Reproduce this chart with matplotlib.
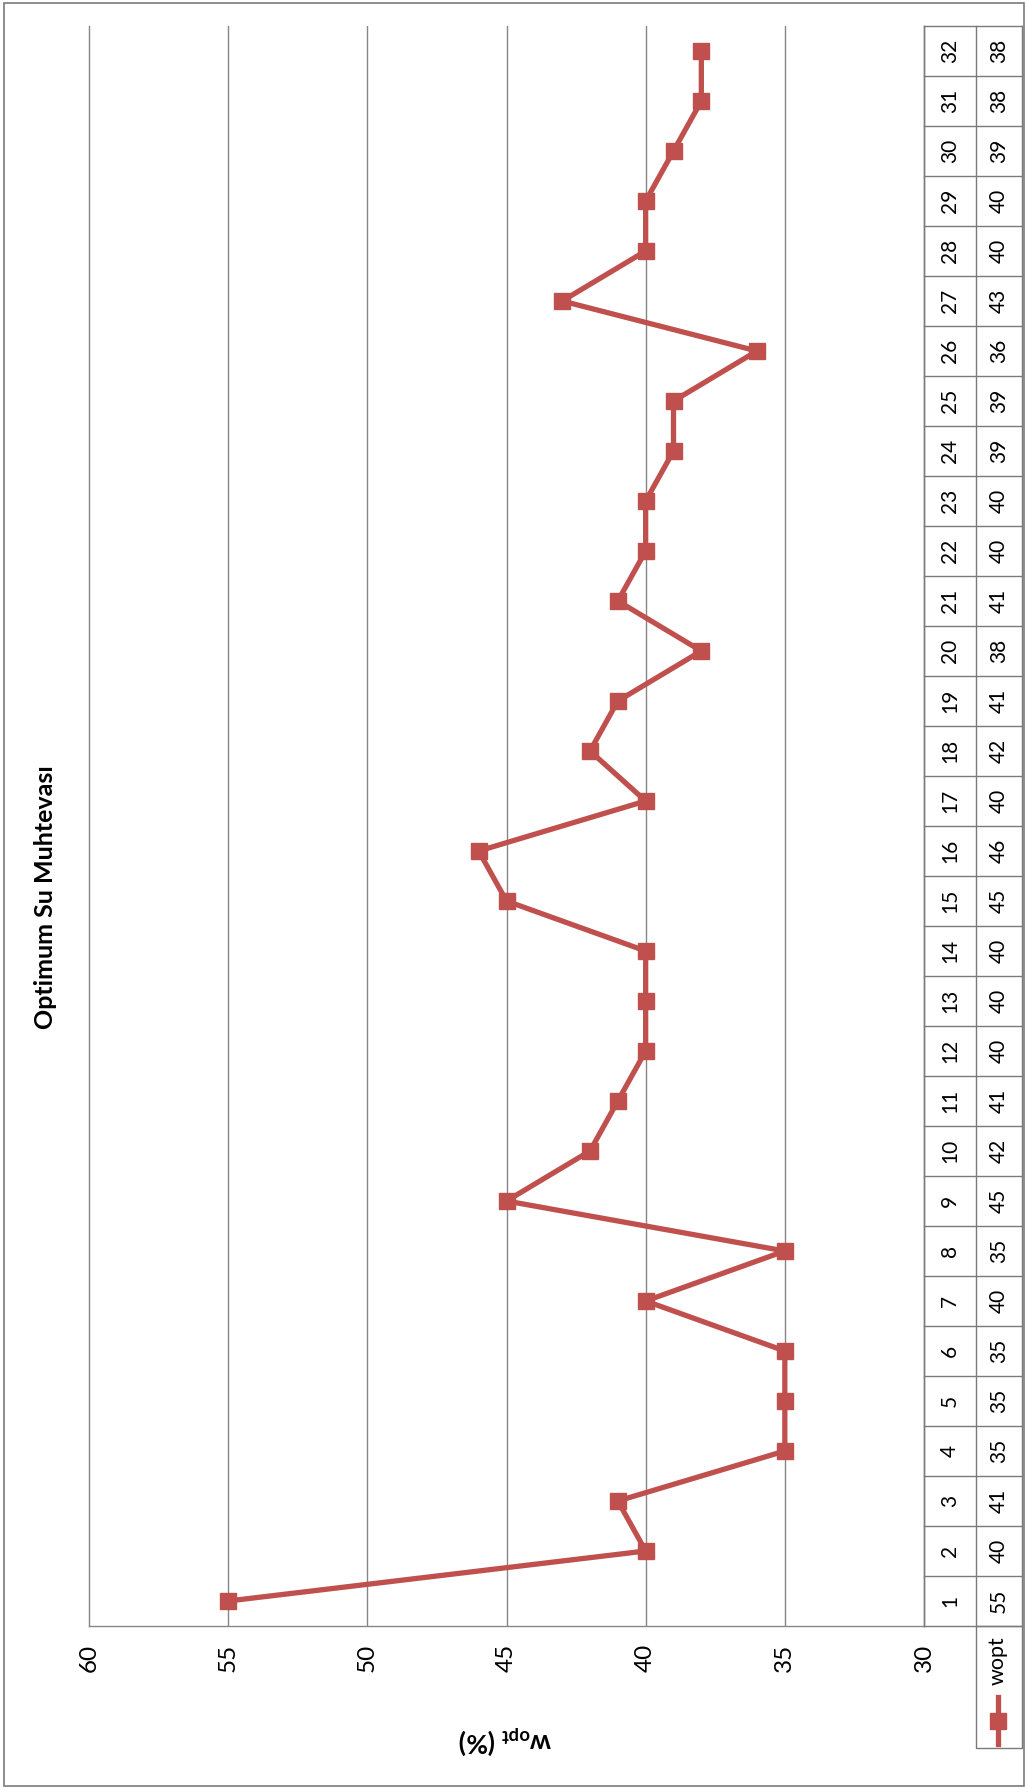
import matplotlib
matplotlib.use("Agg")
import matplotlib.pyplot as plt
from matplotlib.lines import Line2D
from matplotlib.patches import Rectangle

plt.rcParams["font.family"] = ["Lato", "DejaVu Sans"]
plt.rcParams["mathtext.fontset"] = "custom"
plt.rcParams["mathtext.rm"] = "Lato"
plt.rcParams["mathtext.bf"] = "Lato:bold"

# data (sample no -> optimum water content %)
samples = list(range(1, 33))
wopt = [55, 40, 41, 35, 35, 35, 40, 35, 45, 42, 41, 40, 40, 40, 45, 46,
        40, 42, 41, 38, 41, 40, 40, 39, 39, 36, 43, 40, 40, 39, 38, 38]
value_ticks = [60, 55, 50, 45, 40, 35, 30]

title = "Optimum Su Muhtevası"
series_name = "wopt"

RED = "#C0504D"
GRID = "#868686"
BORDER = "#7a7a7a"

W, H = 1028, 1792
fig = plt.figure(figsize=(W / 100, H / 100), dpi=100)
fig.patch.set_facecolor("white")


def fx(px):
    return px / W


def fy(py):
    return 1 - py / H


# chart is drawn turned 90 deg: value axis runs along the bottom, samples go up
plot_l, plot_r, plot_t, plot_b = 89, 924, 26, 1626
ax = fig.add_axes([fx(plot_l), fy(plot_b), fx(plot_r - plot_l), (plot_b - plot_t) / H])
ax.plot(wopt, samples, color=RED, lw=3.8, marker="s", ms=12,
        markerfacecolor=RED, markeredgecolor=RED, zorder=3, clip_on=False)
ax.set_xlim(60, 30)
ax.set_ylim(0.5, len(samples) + 0.5)
ax.set_xticks(value_ticks)
ax.set_xticklabels([str(v) for v in value_ticks], rotation=90, fontsize=17.5)
ax.tick_params(axis="x", length=0, pad=13)
ax.set_yticks([])
for v in value_ticks[1:-1]:
    ax.axvline(v, color=GRID, lw=1, zorder=1)
ax.spines["top"].set_visible(False)
ax.spines["left"].set_color(GRID)
ax.spines["bottom"].set_color(GRID)
ax.spines["right"].set_color(BORDER)
for side in ("left", "bottom", "right"):
    ax.spines[side].set_linewidth(1)

# data table on the right
tab_l, tab_mid, tab_r = 924, 976, 1022
tab = fig.add_axes([fx(tab_l), fy(plot_b), fx(tab_r - tab_l), (plot_b - plot_t) / H], sharey=ax)
tab.set_xlim(0, tab_r - tab_l)
tab.axis("off")
n = len(samples)
for k in range(n + 1):
    tab.plot([0, tab_r - tab_l], [k + 0.5, k + 0.5], color=BORDER, lw=1, clip_on=False)
for xv in (0, tab_mid - tab_l, tab_r - tab_l):
    tab.plot([xv, xv], [0.5, n + 0.5], color=BORDER, lw=1, clip_on=False)
for s, w in zip(samples, wopt):
    tab.text((tab_mid - tab_l) / 2, s, str(s), rotation=90, fontsize=15,
             ha="center", va="center")
    tab.text((tab_mid - tab_l) + (tab_r - tab_mid) / 2, s, str(w), rotation=90,
             fontsize=15, ha="center", va="center")

# legend key under the value column
leg_t, leg_b = 1626, 1748
fig.add_artist(Rectangle((fx(tab_mid), fy(leg_b)), fx(tab_r - tab_mid), (leg_b - leg_t) / H,
                         transform=fig.transFigure, fill=False, ec=BORDER, lw=1))
fig.add_artist(Line2D([fx(998), fx(998)], [fy(1744), fy(1697)], transform=fig.transFigure,
                      color=RED, lw=3.8))
fig.add_artist(Line2D([fx(998)], [fy(1721)], transform=fig.transFigure, marker="s", ms=12,
                      color=RED, markeredgecolor=RED))
fig.text(fx(998), fy(1661), series_name, rotation=90, fontsize=15.5, ha="center", va="center")

# title and value axis label
fig.text(fx(46), fy(897), title, rotation=90, fontsize=18, fontweight="bold",
         ha="center", va="center")
fig.text(fx(505), fy(1740), r"w$_{\mathbf{opt}}$ (%)", rotation=180, fontsize=19,
         fontweight="bold", ha="center", va="center")

# outer chart border
fig.add_artist(Rectangle((fx(4), fy(1786)), fx(1020), (1786 - 3) / H,
                         transform=fig.transFigure, fill=False, ec=BORDER, lw=1.2))

fig.savefig("out.png", dpi=100)
